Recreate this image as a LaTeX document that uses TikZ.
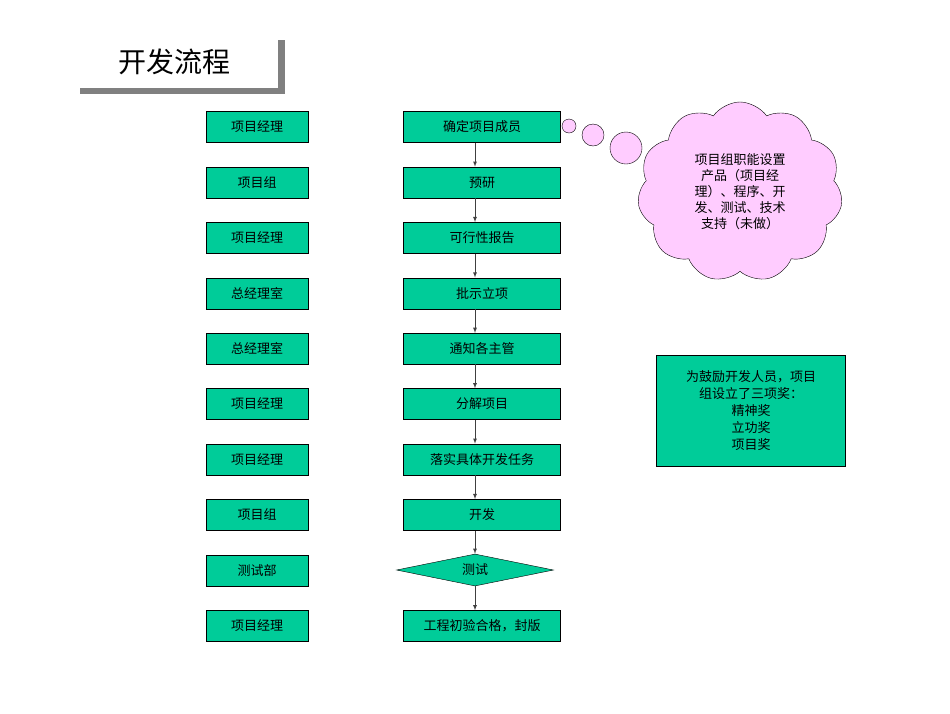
\documentclass[tikz,border=0pt]{standalone}
\usepackage{fontspec}
\setmainfont{Noto Sans CJK SC}
\usetikzlibrary{shapes.geometric,shapes.symbols,calc}
\definecolor{boxgreen}{HTML}{00CC99}
\definecolor{cloudpink}{HTML}{FFCCFF}
\begin{document}
\begin{tikzpicture}[x=1pt,y=-1pt,
    role/.style={rectangle, draw, fill=boxgreen, minimum width=102pt, minimum height=31pt, font=\fontsize{13}{15}\selectfont},
    stepbox/.style={rectangle, draw, fill=boxgreen, minimum width=157pt, minimum height=31pt, font=\fontsize{13}{15}\selectfont},
    check/.style={diamond, draw, fill=boxgreen, aspect=5, minimum width=157pt, minimum height=32pt, inner sep=0pt, font=\fontsize{13}{15}\selectfont},
    arrow/.style={-latex, thick, black!75}
]
    \useasboundingbox (0,0) rectangle (950,713);
    % Title
    \fill[gray] (80,88) rectangle (285,94);
    \fill[gray] (278,40) rectangle (285,94);
    \node[font=\fontsize{28}{32}\selectfont] (title) at (174,62) {开发流程};

    % Roles
    \foreach \t [count=\i] in {项目经理,项目组,项目经理,总经理室,总经理室,项目经理,项目经理,项目组,测试部,项目经理}
        \node[role] (r\i) at (257,{127+(\i-1)*55.4}) {\t};

    % Steps
    \foreach \t [count=\i] in {确定项目成员,预研,可行性报告,批示立项,通知各主管,分解项目,落实具体开发任务,开发}
        \node[stepbox] (s\i) at (482,{127+(\i-1)*55.4}) {\t};
    \node[check] (s9) at (475,570) {测试};
    \node[stepbox] (s10) at (482,626) {工程初验合格，封版};

    % Arrows
    \foreach \i [evaluate=\i as \j using int(\i+1)] in {1,...,9}
        \draw[arrow] (s\i.south -| s9.center) -- (s\j.north -| s9.center);

    % Cloud
    \node[cloud, draw, fill=cloudpink, cloud puffs=11, cloud puff arc=110, aspect=1.1,
          minimum width=205pt, minimum height=180pt, inner sep=0pt, align=center,
          font=\fontsize{13}{16}\selectfont] (cloud) at (740,192)
          {项目组职能设置\\产品（项目经\\理）、程序、开\\发、测试、技术\\支持（未做）};
    \draw[fill=cloudpink] (569,126) circle (7);
    \draw[fill=cloudpink] (593,135) circle (11);
    \draw[fill=cloudpink] (626,148) circle (16);

    % Awards
    \node[rectangle, draw, fill=boxgreen, minimum width=189pt, minimum height=111pt, align=center,
          font=\fontsize{13}{17}\selectfont] (award) at (751,411)
          {为鼓励开发人员，项目\\组设立了三项奖：\\精神奖\\立功奖\\项目奖};
\end{tikzpicture}
\end{document}
